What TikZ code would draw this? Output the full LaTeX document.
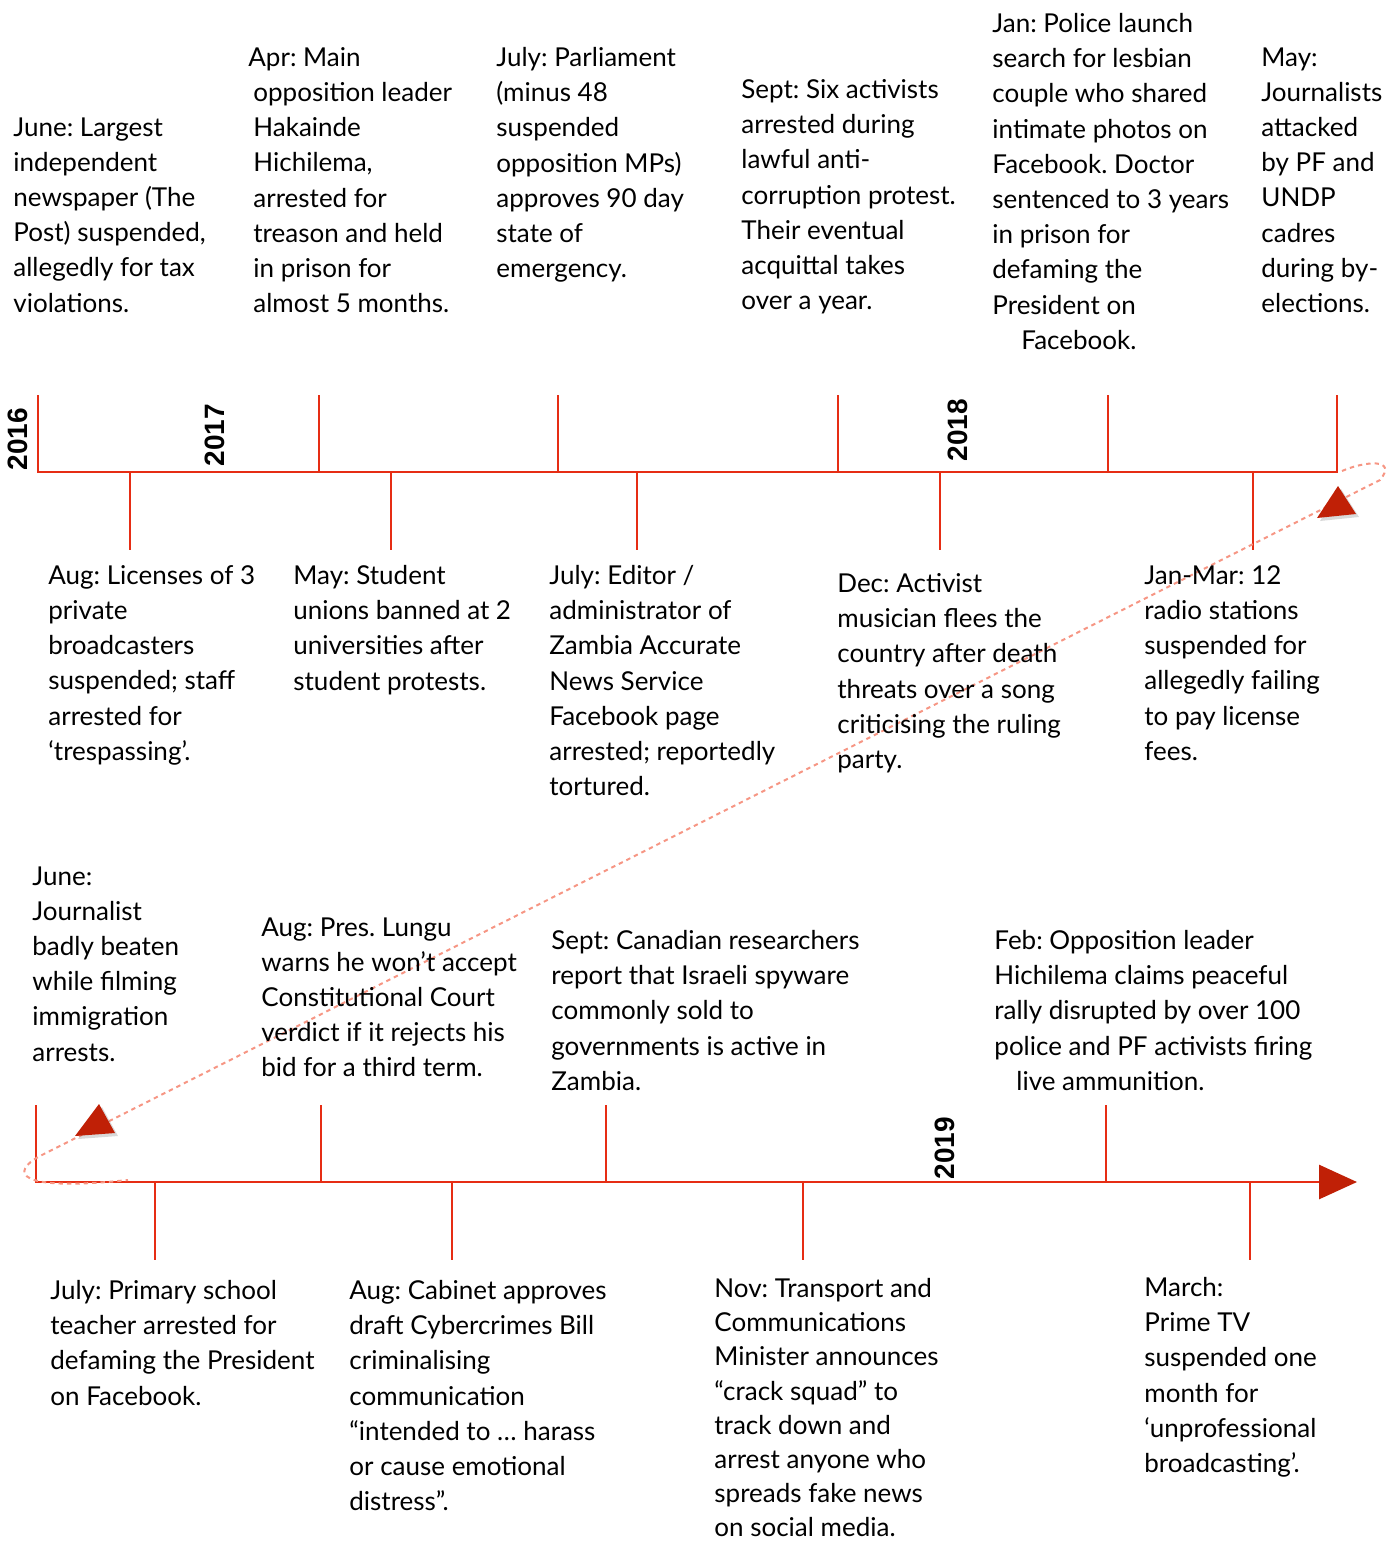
\documentclass[tikz,border=0pt]{standalone}
\usepackage{fontspec}
\setmainfont{Lato}
\newfontfamily\yearfont{Liberation Sans}
\usetikzlibrary{arrows.meta,shadows}
\definecolor{tlred}{RGB}{230,45,20}
\definecolor{tldark}{RGB}{192,32,6}
\definecolor{tlsalmon}{RGB}{246,150,132}
\frenchspacing

\begin{document}
\begin{tikzpicture}[x=0.5pt, y=-0.5pt,
  evt/.style={anchor=north west, inner sep=0pt, align=left,
    font=\fontsize{13}{17.6}\selectfont},
  yr/.style={rotate=90, inner sep=0pt,
    font=\yearfont\bfseries\fontsize{14}{14}\selectfont},
  tickln/.style={tlred, line width=1.4pt},
  head/.style={fill=tldark, draw=none,
    drop shadow={opacity=0.3, shadow xshift=1.5pt, shadow yshift=-1.5pt}}]
  \useasboundingbox (0,0) rectangle (1396,1546);

  % Top timeline
  \draw[tickln] (38,395) -- (38,472) -- (1337,472) -- (1337,395);
  \foreach \x in {319,558,838,1108}
    \draw[tickln] (\x,472) -- (\x,395);
  \foreach \x in {130,391,637,940,1253}
    \draw[tickln] (\x,472) -- (\x,550);

  % Bottom timeline
  \draw[tickln, -{Triangle[length=19pt,width=17pt,fill=tldark,color=tldark]}]
    (36,1105) -- (36,1182) -- (1357,1182);
  \foreach \x in {321,606,1106}
    \draw[tickln] (\x,1182) -- (\x,1105);
  \foreach \x in {155,452,803,1250}
    \draw[tickln] (\x,1182) -- (\x,1260);

  % Wrap-around link
  \draw[tlsalmon, line width=1pt, dash pattern=on 2.2pt off 2pt]
    (1342,471) .. controls (1365,461) and (1398,458) .. (1380,480)
    -- (40,1156) .. controls (10,1172) and (15,1192) .. (128,1180);
  \fill[head] (1338,486) -- (1317,518) -- (1356,514) -- cycle;
  \fill[head] (99,1104) -- (75,1136) -- (115,1133) -- cycle;

  % Years
  \node[yr] (y2016) at (18,439) {2016};
  \node[yr] (y2017) at (215,435) {2017};
  \node[yr] (y2018) at (958,430) {2018};
  \node[yr] (y2019) at (945,1148) {2019};

  % Events above the top line
  \node[evt] (postban) at (13,117) {June: Largest\\independent\\newspaper (The\\Post) suspended,\\allegedly for tax\\violations.};
  \node[evt] (hharrest) at (253,47) {\hspace*{-2.5pt}Apr: Main\\opposition leader\\Hakainde\\Hichilema,\\arrested for\\treason and held\\in prison for\\almost 5 months.};
  \node[evt] (emergency) at (496,47) {July: Parliament\\(minus 48\\suspended\\opposition MPs)\\approves 90 day\\state of\\emergency.};
  \node[evt] (sixact) at (741,79) {Sept: Six activists\\arrested during\\lawful anti-\\corruption protest.\\Their eventual\\acquittal takes\\over a year.};
  \node[evt] (lesbian) at (992,13) {Jan: Police launch\\search for lesbian\\couple who shared\\intimate photos on\\Facebook. Doctor\\sentenced to 3 years\\in prison for\\defaming the\\President on\\\hspace*{14.5pt}Facebook.};
  \node[evt] (byelec) at (1261,47) {May:\\Journalists\\attacked\\by PF and\\UNDP\\cadres\\during by-\\elections.};

  % Events below the top line
  \node[evt] (licenses) at (48,565) {Aug: Licenses of 3\\private\\broadcasters\\suspended; staff\\arrested for\\‘trespassing’.};
  \node[evt] (unions) at (293,565) {May: Student\\unions banned at 2\\universities after\\student protests.};
  \node[evt] (zans) at (549,565) {July: Editor /\\administrator of\\Zambia Accurate\\News Service\\Facebook page\\arrested; reportedly\\tortured.};
  \node[evt] (musician) at (837,573) {Dec: Activist\\musician flees the\\country after death\\threats over a song\\criticising the ruling\\party.};
  \node[evt] (radio) at (1144,565) {Jan-Mar: 12\\radio stations\\suspended for\\allegedly failing\\to pay license\\fees.};

  % Events above the bottom line
  \node[evt] (beaten) at (32,866) {June:\\Journalist\\badly beaten\\while filming\\immigration\\arrests.};
  \node[evt] (lungu) at (261,917) {Aug: Pres. Lungu\\warns he won’t accept\\Constitutional Court\\verdict if it rejects his\\bid for a third term.};
  \node[evt] (spyware) at (551,930) {Sept: Canadian researchers\\report that Israeli spyware\\commonly sold to\\governments is active in\\Zambia.};
  \node[evt] (rally) at (994,930) {Feb: Opposition leader\\Hichilema claims peaceful\\rally disrupted by over 100\\police and PF activists firing\\\hspace*{11pt}live ammunition.};

  % Events below the bottom line
  \node[evt] (teacher) at (50,1280) {July: Primary school\\teacher arrested for\\defaming the President\\on Facebook.};
  \node[evt] (cyberbill) at (349,1280) {Aug: Cabinet approves\\draft Cybercrimes Bill\\criminalising\\communication\\“intended to … harass\\or cause emotional\\distress”.};
  \node[evt, font=\fontsize{13}{17.1}\selectfont] (squad) at (714,1278) {Nov: Transport and\\Communications\\Minister announces\\“crack squad” to\\track down and\\arrest anyone who\\spreads fake news\\on social media.};
  \node[evt] (primetv) at (1144,1277) {March:\\Prime TV\\suspended one\\month for\\‘unprofessional\\broadcasting’.};
\end{tikzpicture}
\end{document}
